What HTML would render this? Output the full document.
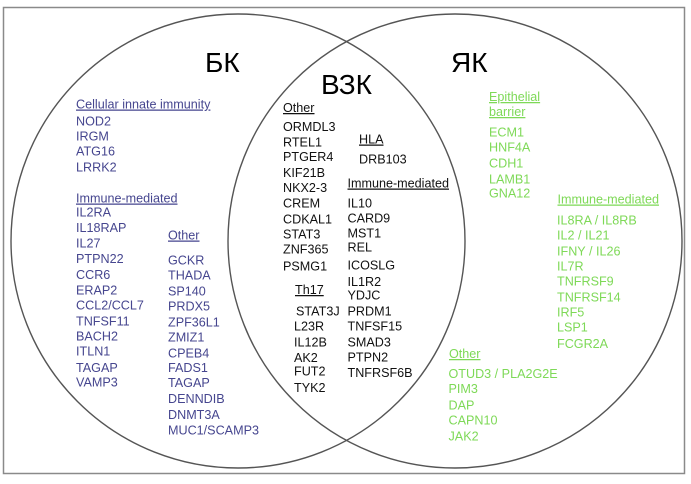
<!DOCTYPE html>
<html>
<head>
<meta charset="utf-8">
<style>
  html,body{margin:0;padding:0;background:#fff;}
  svg{display:block;}
  text{font-family:"Liberation Sans", Arial, sans-serif;}
  .b{fill:#46468f;font-size:12.6px;}
  .k{fill:#111;font-size:12.6px;}
  .g{fill:#7ed957;font-size:12.6px;}
  .u{text-decoration:underline;}
  .t{fill:#000;font-size:28px;}
</style>
</head>
<body>
<svg width="691" height="484" viewBox="0 0 691 484" xmlns="http://www.w3.org/2000/svg">
  <rect x="3.5" y="7.5" width="681" height="466" fill="#fff" stroke="#8a8a8a" stroke-width="1.5"/>
  <circle cx="238" cy="241" r="227" fill="none" stroke="#555" stroke-width="1.4"/>
  <circle cx="455" cy="241" r="227" fill="none" stroke="#555" stroke-width="1.4"/>

  <text class="t" x="205" y="72">БК</text>
  <text class="t" x="321" y="94">ВЗК</text>
  <text class="t" x="451" y="72">ЯК</text>

  <!-- Left (blue) -->
  <text class="b u" x="76" y="108.5">Cellular innate immunity</text>
  <text class="b" x="76" y="125.5">NOD2</text>
  <text class="b" x="76" y="140.5">IRGM</text>
  <text class="b" x="76" y="155.5">ATG16</text>
  <text class="b" x="76" y="171.5">LRRK2</text>
  <text class="b u" x="76" y="202.5">Immune-mediated</text>
  <text class="b" x="76" y="216.5">IL2RA</text>
  <text class="b" x="76" y="232">IL18RAP</text>
  <text class="b" x="76" y="247.5">IL27</text>
  <text class="b" x="76" y="263">PTPN22</text>
  <text class="b" x="76" y="279">CCR6</text>
  <text class="b" x="76" y="294.5">ERAP2</text>
  <text class="b" x="76" y="309.5">CCL2/CCL7</text>
  <text class="b" x="76" y="325.5">TNFSF11</text>
  <text class="b" x="76" y="340.5">BACH2</text>
  <text class="b" x="76" y="355.5">ITLN1</text>
  <text class="b" x="76" y="372">TAGAP</text>
  <text class="b" x="76" y="386.5">VAMP3</text>

  <text class="b u" x="168" y="239.5">Other</text>
  <text class="b" x="168" y="264.5">GCKR</text>
  <text class="b" x="168" y="279.5">THADA</text>
  <text class="b" x="168" y="295.5">SP140</text>
  <text class="b" x="168" y="310.5">PRDX5</text>
  <text class="b" x="168" y="326.5">ZPF36L1</text>
  <text class="b" x="168" y="341.5">ZMIZ1</text>
  <text class="b" x="168" y="357.5">CPEB4</text>
  <text class="b" x="168" y="372">FADS1</text>
  <text class="b" x="168" y="387">TAGAP</text>
  <text class="b" x="168" y="403">DENNDIB</text>
  <text class="b" x="168" y="419">DNMT3A</text>
  <text class="b" x="168" y="434.5">MUC1/SCAMP3</text>

  <!-- Middle (black) -->
  <text class="k u" x="283" y="112">Other</text>
  <text class="k" x="283" y="131">ORMDL3</text>
  <text class="k" x="283" y="146.5">RTEL1</text>
  <text class="k" x="283" y="161">PTGER4</text>
  <text class="k" x="283" y="177">KIF21B</text>
  <text class="k" x="283" y="192">NKX2-3</text>
  <text class="k" x="283" y="207.5">CREM</text>
  <text class="k" x="283" y="223.5">CDKAL1</text>
  <text class="k" x="283" y="238.5">STAT3</text>
  <text class="k" x="283" y="253.5">ZNF365</text>
  <text class="k" x="283" y="270.5">PSMG1</text>
  <text class="k u" x="295" y="294">Th17</text>
  <text class="k" x="296" y="315.5">STAT3J</text>
  <text class="k" x="294" y="330.5">L23R</text>
  <text class="k" x="294" y="346.5">IL12B</text>
  <text class="k" x="294" y="362">AK2</text>
  <text class="k" x="294" y="375.5">FUT2</text>
  <text class="k" x="294" y="392">TYK2</text>

  <text class="k u" x="359" y="143.5">HLA</text>
  <text class="k" x="359" y="163.5">DRB103</text>
  <text class="k u" x="347.5" y="187.5">Immune-mediated</text>
  <text class="k" x="347.5" y="207.5">IL10</text>
  <text class="k" x="347.5" y="222.5">CARD9</text>
  <text class="k" x="347.5" y="237.5">MST1</text>
  <text class="k" x="347.5" y="251.5">REL</text>
  <text class="k" x="347.5" y="269.5">ICOSLG</text>
  <text class="k" x="347.5" y="286">IL1R2</text>
  <text class="k" x="347.5" y="299.5">YDJC</text>
  <text class="k" x="347.5" y="315.5">PRDM1</text>
  <text class="k" x="347.5" y="330.5">TNFSF15</text>
  <text class="k" x="347.5" y="346.5">SMAD3</text>
  <text class="k" x="347.5" y="361.5">PTPN2</text>
  <text class="k" x="347.5" y="377">TNFRSF6B</text>

  <!-- Right (green) -->
  <text class="g u" x="489" y="101">Epithelial</text>
  <text class="g u" x="489" y="116">barrier</text>
  <text class="g" x="489" y="136.5">ECM1</text>
  <text class="g" x="489" y="151.5">HNF4A</text>
  <text class="g" x="489" y="167.5">CDH1</text>
  <text class="g" x="489" y="183.5">LAMB1</text>
  <text class="g" x="489" y="197.5">GNA12</text>

  <text class="g u" x="557.5" y="203.5">Immune-mediated</text>
  <text class="g" x="557" y="224.5">IL8RA / IL8RB</text>
  <text class="g" x="557" y="239.5">IL2 / IL21</text>
  <text class="g" x="557" y="255.5">IFNY / IL26</text>
  <text class="g" x="557" y="270.5">IL7R</text>
  <text class="g" x="557" y="285.5">TNFRSF9</text>
  <text class="g" x="557" y="301.5">TNFRSF14</text>
  <text class="g" x="557" y="316.5">IRF5</text>
  <text class="g" x="557" y="331.5">LSP1</text>
  <text class="g" x="557" y="348">FCGR2A</text>

  <text class="g u" x="449" y="358">Other</text>
  <text class="g" x="448.5" y="378">OTUD3 / PLA2G2E</text>
  <text class="g" x="448.5" y="393">PIM3</text>
  <text class="g" x="448.5" y="409.5">DAP</text>
  <text class="g" x="448.5" y="424.5">CAPN10</text>
  <text class="g" x="448.5" y="440.5">JAK2</text>
</svg>
</body>
</html>
